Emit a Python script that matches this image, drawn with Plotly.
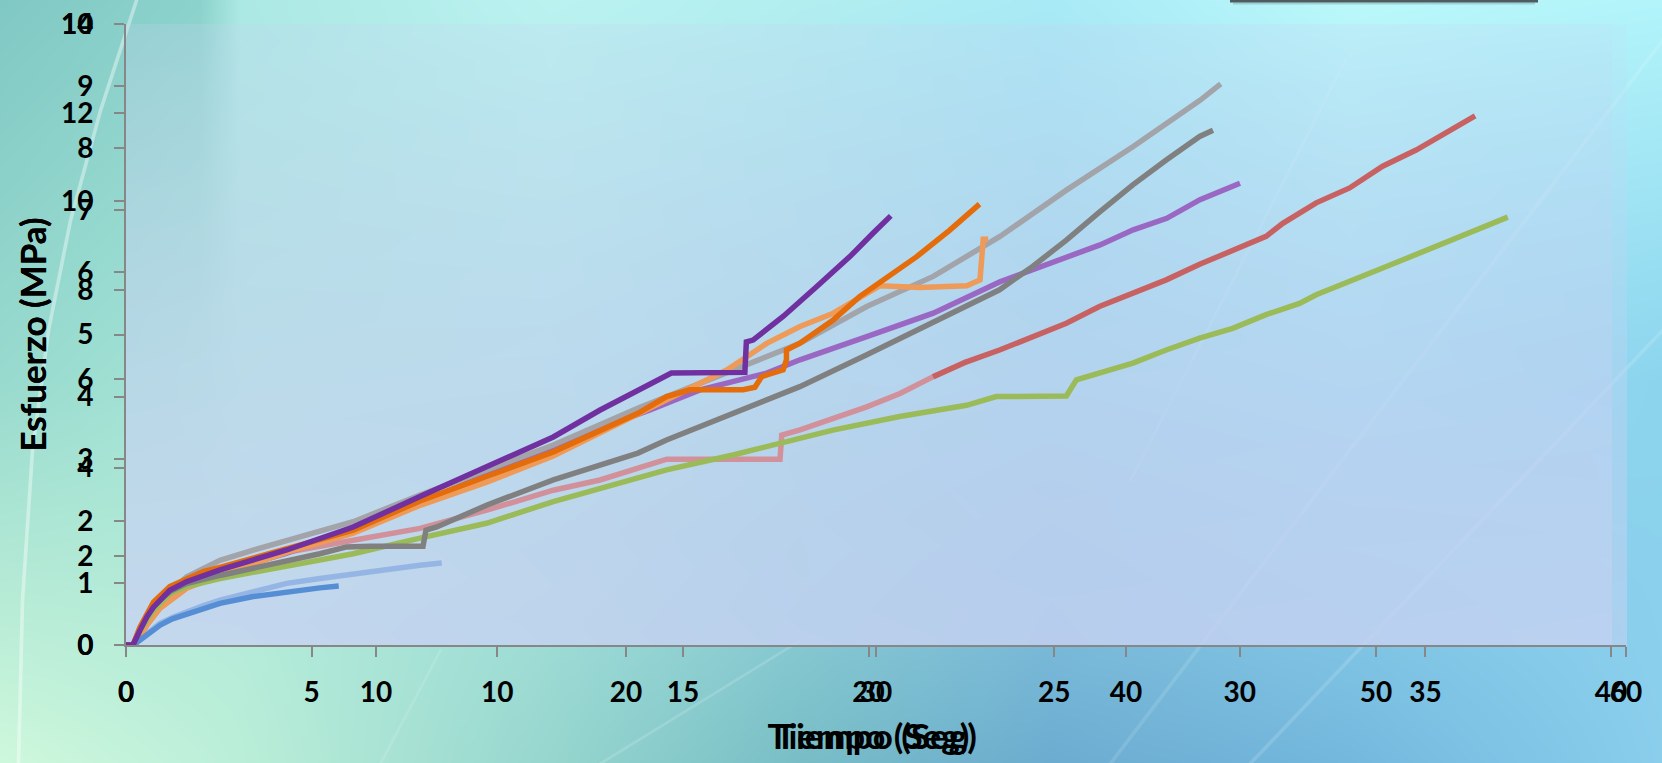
import base64
import struct
import zlib

import numpy as np
import plotly.graph_objects as go

# ---------------------------------------------------------------
# Ensayo A  (tiempo 0-60 s, esfuerzo 0-14 MPa)
# ---------------------------------------------------------------
a_lightblue_t = [0, 0.28, 0.43, 0.9, 1.36, 1.9, 2.43, 3.1, 3.76, 5.09, 6.43, 7.76, 9.09, 10.43, 11.76, 12.63]
a_lightblue_v = [0, 0, 0.07, 0.30, 0.49, 0.63, 0.75, 0.89, 1.01, 1.20, 1.39, 1.50, 1.61, 1.71, 1.80, 1.85]

a_lightgray_t = [0, 0.28, 0.83, 1.36, 2.43, 3.76, 5.09, 6.43, 9.09, 11.76, 14.43, 17.09,
                 20.49, 24.29, 26.96, 29.63, 32.29, 34.96, 37.63, 40.29, 42.96, 43.79]
a_lightgray_v = [0, 0, 0.56, 1.01, 1.54, 1.91, 2.14, 2.36, 2.78, 3.38, 3.94, 4.51,
                 5.34, 6.20, 6.80, 7.63, 8.31, 9.21, 10.26, 11.24, 12.28, 12.65]

a_lightpurple_t = [0, 0.28, 0.83, 1.36, 2.43, 3.76, 6.43, 9.09, 11.76, 14.43, 17.09, 18.96,
                   20.96, 22.96, 25.63, 26.96, 29.63, 32.29, 34.96, 36.29, 37.63, 38.96,
                   40.29, 41.63, 42.96, 44.56]
a_lightpurple_v = [0, 0, 0.60, 1.01, 1.42, 1.64, 2.07, 2.59, 3.22, 3.83, 4.44, 4.89,
                   5.30, 5.75, 6.13, 6.43, 6.95, 7.48, 8.19, 8.46, 8.72, 9.02,
                   9.36, 9.62, 10.04, 10.41]

a_lightorange_t = [0, 0.36, 0.83, 1.36, 2.43, 3.76, 6.43, 9.09, 11.76, 14.43, 17.09, 18.96,
                   21.63, 24.03, 25.63, 26.96, 28.29, 29.63, 30.16, 31.76, 33.63, 34.16,
                   34.23, 34.29, 34.49]
a_lightorange_v = [0, 0, 0.45, 0.83, 1.28, 1.57, 2.09, 2.52, 3.15, 3.67, 4.26, 4.78,
                   5.52, 6.20, 6.80, 7.18, 7.48, 7.93, 8.10, 8.06, 8.10, 8.23,
                   8.98, 9.15, 9.15]

a_pink_t = [0, 0.36, 0.83, 1.36, 2.43, 3.76, 5.09, 6.43, 9.09, 11.76, 14.43, 17.09, 18.96,
            20.29, 21.63, 26.16, 26.23, 26.96, 28.29, 29.63, 30.96, 32.29, 33.63]
a_pink_v = [0, 0, 0.45, 0.85, 1.46, 1.73, 1.91, 2.09, 2.36, 2.63, 3.04, 3.49, 3.72,
            3.94, 4.19, 4.19, 4.73, 4.85, 5.11, 5.37, 5.67, 6.05, 6.39]

# ---------------------------------------------------------------
# Ensayo B  (tiempo 0-40 s, esfuerzo 0-10 MPa)
# ---------------------------------------------------------------
b_blue_t = [0, 0.19, 0.38, 0.65, 0.92, 1.25, 1.63, 2.05, 2.53, 3.43, 4.33, 5.22, 5.73]
b_blue_v = [0, 0, 0.08, 0.21, 0.32, 0.42, 0.50, 0.59, 0.67, 0.78, 0.86, 0.92, 0.95]

b_green_t = [0, 0.19, 0.38, 0.74, 1.18, 1.63, 2.53, 4.33, 6.12, 7.92, 9.71, 11.51, 13.79,
             14.56, 16.35, 17.70, 19.04, 20.84, 22.64, 23.44, 25.33, 25.60, 26.22, 27.12,
             28.02, 28.92, 29.81, 30.71, 31.61, 32.06, 33.85, 35.65, 37.22]
b_green_v = [0, 0, 0.24, 0.56, 0.83, 0.94, 1.07, 1.26, 1.47, 1.72, 1.96, 2.31, 2.68,
             2.82, 3.06, 3.25, 3.46, 3.68, 3.86, 4.00, 4.01, 4.27, 4.38, 4.54,
             4.75, 4.94, 5.10, 5.32, 5.50, 5.64, 6.07, 6.50, 6.89]

b_red_t = [21.74, 22.64, 23.53, 24.43, 25.33, 26.22, 27.12, 28.02, 28.92, 29.81, 30.71,
           31.16, 32.06, 32.96, 33.85, 34.75, 35.65, 36.34]
b_red_v = [4.32, 4.56, 4.75, 4.97, 5.18, 5.45, 5.66, 5.88, 6.13, 6.36, 6.58,
           6.79, 7.12, 7.36, 7.71, 7.97, 8.29, 8.52]

b_darkgray_t = [0, 0.19, 0.38, 0.74, 1.18, 1.63, 2.53, 3.43, 4.33, 5.22, 5.94, 6.57, 8.00,
                8.08, 8.37, 9.71, 11.51, 13.79, 14.56, 16.35, 18.15, 19.94, 21.74, 23.53,
                24.43, 25.33, 26.22, 27.12, 28.02, 28.92, 29.28]
b_darkgray_v = [0, 0, 0.27, 0.64, 0.86, 0.99, 1.12, 1.23, 1.34, 1.47, 1.58, 1.59, 1.59,
                1.85, 1.90, 2.25, 2.66, 3.09, 3.30, 3.73, 4.16, 4.67, 5.20, 5.72,
                6.10, 6.52, 6.97, 7.41, 7.81, 8.19, 8.29]

b_orange_t = [0, 0.19, 0.38, 0.56, 0.74, 1.18, 1.63, 2.08, 2.53, 4.33, 6.12, 7.92, 9.71,
              11.51, 13.79, 14.56, 15.19, 16.62, 16.94, 17.12, 17.26, 17.70, 17.79, 17.79,
              18.15, 19.04, 19.76, 20.39, 21.29, 22.19, 22.99]
b_orange_v = [0, 0, 0.29, 0.51, 0.69, 0.94, 1.07, 1.18, 1.25, 1.56, 1.85, 2.32, 2.71,
              3.11, 3.73, 4.00, 4.11, 4.11, 4.15, 4.32, 4.35, 4.43, 4.59, 4.75,
              4.86, 5.23, 5.61, 5.88, 6.25, 6.68, 7.10]

b_purple_t = [0, 0.19, 0.38, 0.56, 0.74, 1.18, 1.63, 2.08, 2.53, 4.33, 6.12, 7.92, 9.71,
              11.51, 12.76, 13.66, 14.38, 14.69, 16.67, 16.71, 16.89, 17.70, 18.60, 19.49,
              20.12, 20.60]
b_purple_v = [0, 0, 0.24, 0.45, 0.61, 0.88, 1.02, 1.12, 1.21, 1.53, 1.90, 2.39, 2.87,
              3.35, 3.78, 4.05, 4.27, 4.38, 4.39, 4.88, 4.91, 5.29, 5.77, 6.25,
              6.63, 6.91]

# ---------------------------------------------------------------
# page geometry and the painted backdrop
# ---------------------------------------------------------------
W, H = 1662, 763
ML, MR, MT, MB = 126, 36, 24, 118
PLOT_W = W - ML - MR
PLOT_H = H - MT - MB
B_RIGHT = 0.99  # right edge of the 0-40 s frame, as a fraction of the frame


def png_uri(rgb):
    h, w, _ = rgb.shape
    raw = rgb.astype(np.int16)
    sub = raw.copy()
    sub[:, 1:, :] = raw[:, 1:, :] - raw[:, :-1, :]
    sub = (sub % 256).astype(np.uint8).reshape(h, w * 3)
    rows = np.concatenate([np.ones((h, 1), np.uint8), sub], axis=1)

    def chunk(tag, data):
        return (struct.pack(">I", len(data)) + tag + data
                + struct.pack(">I", zlib.crc32(tag + data) & 0xFFFFFFFF))

    png = (b"\x89PNG\r\n\x1a\n"
           + chunk(b"IHDR", struct.pack(">IIBBBBB", w, h, 8, 2, 0, 0, 0))
           + chunk(b"IDAT", zlib.compress(rows.tobytes(), 9))
           + chunk(b"IEND", b""))
    return "data:image/png;base64," + base64.b64encode(png).decode()


def backdrop():
    xk = [0, 200, 240, 550, 800, 1050, 1350, 1662]
    top = [(128, 200, 196), (140, 210, 204), (172, 232, 228), (186, 242, 240),
           (178, 238, 240), (168, 234, 246), (186, 248, 250), (178, 244, 250)]
    mid = [(152, 218, 206), (164, 228, 214), (170, 232, 220), (172, 230, 228),
           (160, 220, 230), (150, 212, 232), (152, 220, 240), (140, 212, 238)]
    bot = [(206, 248, 220), (190, 240, 218), (186, 238, 216), (150, 214, 206),
           (120, 190, 198), (108, 172, 208), (116, 184, 222), (138, 206, 236)]
    xs = np.arange(W)

    def row(cols):
        return np.stack([np.interp(xs, xk, [c[i] for c in cols]) for i in range(3)], -1)

    t, m, b = row(top), row(mid), row(bot)
    ys = np.arange(H)[:, None, None].astype(float)
    ym = 380.0
    img = np.where(ys <= ym, t + (m - t) * (ys / ym),
                   m + (b - m) * ((ys - ym) / (H - 1 - ym)))

    gy, gx = np.mgrid[0:H, 0:W].astype(float)

    def stroke(pts, width, alpha, color=(255, 255, 255)):
        dist = np.full((H, W), 1e9)
        for (x0, y0), (x1, y1) in zip(pts[:-1], pts[1:]):
            dx, dy = x1 - x0, y1 - y0
            L2 = dx * dx + dy * dy
            u = np.clip(((gx - x0) * dx + (gy - y0) * dy) / L2, 0, 1)
            d = np.hypot(gx - (x0 + u * dx), gy - (y0 + u * dy))
            dist = np.minimum(dist, d)
        a = alpha * np.clip(width / 2 + 0.8 - dist, 0, 1)
        img[:] = img * (1 - a[..., None]) + np.array(color) * a[..., None]

    # soft light streaks of the desktop wallpaper
    stroke([(136, 0), (100, 110), (70, 220), (48, 330), (32, 450), (22, 600), (18, 763)], 3, 0.40)
    stroke([(1662, 40), (1110, 763)], 3, 0.12)
    stroke([(1662, 330), (1250, 763)], 3, 0.14)
    stroke([(1345, 60), (1130, 480)], 2, 0.10)
    stroke([(800, 640), (600, 763)], 2, 0.15)
    stroke([(440, 650), (380, 763)], 2, 0.12)

    # semi-transparent plot panels of the two frames
    panel = np.array((198, 210, 242), float)
    for right in (ML + PLOT_W, ML + PLOT_W * B_RIGHT):
        yy = np.arange(H).astype(float)
        a = 0.12 + 0.45 * np.clip((yy - MT) / PLOT_H, 0, 1)
        mask = np.zeros((H, W))
        mask[MT:MT + PLOT_H + 1, ML:int(round(right)) + 1] = 1
        a2 = mask * a[:, None]
        img[:] = img * (1 - a2[..., None]) + panel * a2[..., None]

    return np.clip(np.round(img), 0, 255).astype(np.uint8)


# ---------------------------------------------------------------
# figure
# ---------------------------------------------------------------
fig = go.Figure()

LW = 5.5
series_a = [
    ("Probeta A1", a_lightblue_t, a_lightblue_v, "#95b6e4"),
    ("Probeta A2", a_pink_t, a_pink_v, "#d2919a"),
    ("Probeta A3", a_lightpurple_t, a_lightpurple_v, "#9a68c2"),
    ("Probeta A4", a_lightgray_t, a_lightgray_v, "#a2a4aa"),
    ("Probeta A5", a_lightorange_t, a_lightorange_v, "#ee9a58"),
]
series_b = [
    ("Probeta B1", b_blue_t, b_blue_v, "#558ed5"),
    ("Probeta B2", b_red_t, b_red_v, "#c86262"),
    ("Probeta B3", b_green_t, b_green_v, "#9bbb59"),
    ("Probeta B4", b_darkgray_t, b_darkgray_v, "#808080"),
    ("Probeta B5", b_orange_t, b_orange_v, "#e46c0a"),
    ("Probeta B6", b_purple_t, b_purple_v, "#7030a0"),
]
for name, t, v, c in series_a:
    fig.add_trace(go.Scatter(x=t, y=v, name=name, mode="lines",
                             line=dict(color=c, width=LW, shape="linear"),
                             xaxis="x", yaxis="y"))
for name, t, v, c in series_b:
    fig.add_trace(go.Scatter(x=t, y=v, name=name, mode="lines",
                             line=dict(color=c, width=LW, shape="linear"),
                             xaxis="x2", yaxis="y2"))

tick_font = dict(family="Lato", size=28, color="black", weight="bold")
title_font = dict(family="Lato", size=35, color="black", weight="bold")
axis_style = dict(showgrid=False, zeroline=False, showline=True, linecolor="#878787",
                  linewidth=2, ticks="outside", ticklen=10, tickwidth=2,
                  tickcolor="#878787", tickfont=tick_font, automargin=False)
x_style = dict(axis_style, ticklabelstandoff=11)
y_style = dict(axis_style, ticklabelstandoff=15)

fig.update_layout(
    width=W, height=H,
    margin=dict(l=ML, r=MR, t=MT, b=MB, pad=0, autoexpand=False),
    paper_bgcolor="#9fd8dc",
    plot_bgcolor="rgba(0,0,0,0)",
    showlegend=False,
    xaxis=dict(x_style, domain=[0, 1], range=[0, 60], tick0=0, dtick=10, anchor="y",
               title=dict(text="Tiempo (Seg)", font=title_font, standoff=18)),
    yaxis=dict(y_style, domain=[0, 1], range=[0, 14], tick0=0, dtick=2, anchor="x",
               title=dict(text="Esfuerzo (MPa)", font=title_font, standoff=4)),
    xaxis2=dict(x_style, domain=[0, B_RIGHT], range=[0, 40], tick0=0, dtick=5, anchor="y2",
                title=dict(text="Tiempo (Seg)", font=title_font, standoff=18)),
    yaxis2=dict(y_style, domain=[0, 1], range=[0, 10], tick0=0, dtick=1, anchor="x2",
                title=dict(text="Esfuerzo (MPa)", font=title_font, standoff=4)),
    images=[dict(source=png_uri(backdrop()), xref="paper", yref="paper",
                 x=-ML / PLOT_W, y=1 + MT / PLOT_H, sizex=W / PLOT_W, sizey=H / PLOT_H,
                 xanchor="left", yanchor="top", sizing="stretch", layer="below")],
    shapes=[
        # lower edge of the legend box that sits just above the page
        dict(type="line", xref="paper", yref="paper",
             x0=(1230 - ML) / PLOT_W, x1=(1538 - ML) / PLOT_W,
             y0=1 + (MT - 1.0) / PLOT_H, y1=1 + (MT - 1.0) / PLOT_H,
             line=dict(color="#4f5b5f", width=3), layer="above"),
        dict(type="line", xref="paper", yref="paper",
             x0=(1233 - ML) / PLOT_W, x1=(1535 - ML) / PLOT_W,
             y0=1 + (MT - 3.5) / PLOT_H, y1=1 + (MT - 3.5) / PLOT_H,
             line=dict(color="rgba(60,80,85,0.22)", width=2), layer="above"),
    ],
)

fig.write_html("out.html")
